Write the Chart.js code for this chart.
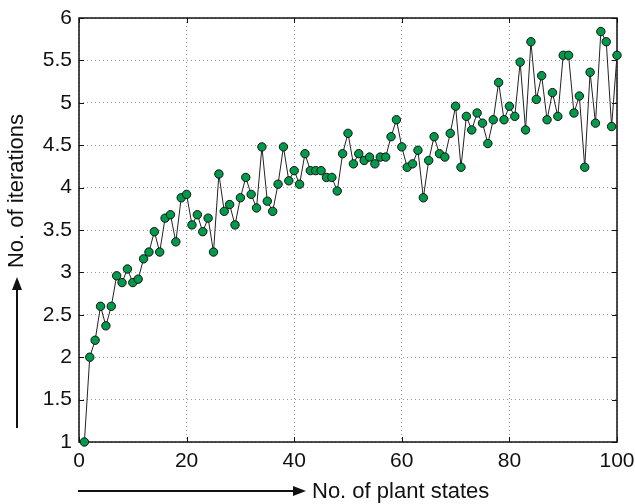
<!DOCTYPE html>
<html>
<head>
<meta charset="utf-8">
<script src="https://cdn.jsdelivr.net/npm/chart.js@4/dist/chart.umd.min.js"></script>
<style>
  html, body { margin: 0; padding: 0; background: #fff; }
  #wrap { width: 635px; height: 504px; position: relative; }
</style>
</head>
<body>
<div id="wrap"><canvas id="chart" width="635" height="504"></canvas></div>
<script>
// x: number of plant states, y: iterations
const plantStates = [
  1, 2, 3, 4, 5, 6, 7, 8, 9, 10, 11, 12, 13, 14, 15, 16, 17, 18, 19, 20,
  21, 22, 23, 24, 25, 26, 27, 28, 29, 30, 31, 32, 33, 34, 35, 36, 37, 38, 39, 40,
  41, 42, 43, 44, 45, 46, 47, 48, 49, 50, 51, 52, 53, 54, 55, 56, 57, 58, 59, 60,
  61, 62, 63, 64, 65, 66, 67, 68, 69, 70, 71, 72, 73, 74, 75, 76, 77, 78, 79, 80,
  81, 82, 83, 84, 85, 86, 87, 88, 89, 90, 91, 92, 93, 94, 95, 96, 97, 98, 99, 100,
];
const iterations = [
  1.00, 2.00, 2.20, 2.60, 2.37, 2.60, 2.96, 2.88, 3.04, 2.88,
  2.92, 3.16, 3.24, 3.48, 3.24, 3.64, 3.68, 3.36, 3.88, 3.92,
  3.56, 3.68, 3.48, 3.64, 3.24, 4.16, 3.72, 3.80, 3.56, 3.88,
  4.12, 3.92, 3.76, 4.48, 3.84, 3.72, 4.04, 4.48, 4.08, 4.20,
  4.04, 4.40, 4.20, 4.20, 4.20, 4.12, 4.12, 3.96, 4.40, 4.64,
  4.28, 4.40, 4.32, 4.36, 4.28, 4.36, 4.36, 4.60, 4.80, 4.48,
  4.24, 4.28, 4.44, 3.88, 4.32, 4.60, 4.40, 4.36, 4.64, 4.96,
  4.24, 4.84, 4.68, 4.88, 4.76, 4.52, 4.80, 5.24, 4.80, 4.96,
  4.84, 5.48, 4.68, 5.72, 5.04, 5.32, 4.80, 5.12, 4.84, 5.56,
  5.56, 4.88, 5.08, 4.24, 5.36, 4.76, 5.84, 5.72, 4.72, 5.56,
];
const xTicks = [0, 20, 40, 60, 80, 100];
const yTicks = [1, 1.5, 2, 2.5, 3, 3.5, 4, 4.5, 5, 5.5, 6];
const yTickLabels = ['1', '1.5', '2', '2.5', '3', '3.5', '4', '4.5', '5', '5.5', '6'];
const xTitle = 'No. of plant states';
const yTitle = 'No. of iterations';

const FONT = "'Liberation Sans', Arial, Helvetica, sans-serif";

function arrow(ctx, x1, y1, x2, y2) {
  const ang = Math.atan2(y2 - y1, x2 - x1);
  const hl = 13, hw = 5;
  ctx.beginPath();
  ctx.moveTo(x1, y1);
  ctx.lineTo(x2 - hl * Math.cos(ang), y2 - hl * Math.sin(ang));
  ctx.stroke();
  ctx.beginPath();
  ctx.moveTo(x2, y2);
  ctx.lineTo(x2 - hl * Math.cos(ang) + hw * Math.sin(ang), y2 - hl * Math.sin(ang) - hw * Math.cos(ang));
  ctx.lineTo(x2 - hl * Math.cos(ang) - hw * Math.sin(ang), y2 - hl * Math.sin(ang) + hw * Math.cos(ang));
  ctx.closePath();
  ctx.fill();
}

// box, inner ticks (MATLAB style) and the arrowed axis titles
const framePlugin = {
  id: 'frame',
  beforeDatasetsDraw(chart) {
    const { ctx, chartArea: a, scales } = chart;
    ctx.save();
    ctx.strokeStyle = '#111';
    ctx.lineWidth = 1;
    ctx.beginPath();
    xTicks.forEach(v => {
      const px = Math.round(scales.x.getPixelForValue(v)) + 0.5;
      ctx.moveTo(px, a.bottom); ctx.lineTo(px, a.bottom - 5);
      ctx.moveTo(px, a.top); ctx.lineTo(px, a.top + 5);
    });
    yTicks.forEach(v => {
      const py = Math.round(scales.y.getPixelForValue(v)) + 0.5;
      ctx.moveTo(a.left, py); ctx.lineTo(a.left + 5, py);
      ctx.moveTo(a.right, py); ctx.lineTo(a.right - 5, py);
    });
    ctx.stroke();
    ctx.lineWidth = 1.5;
    ctx.strokeRect(a.left, a.top, a.right - a.left, a.bottom - a.top);
    ctx.restore();
  },
  afterDraw(chart) {
    const { ctx } = chart;
    ctx.save();
    ctx.fillStyle = '#111';
    ctx.strokeStyle = '#111';
    ctx.lineWidth = 2;
    ctx.font = `22px ${FONT}`;
    ctx.textBaseline = 'middle';
    ctx.textAlign = 'left';
    arrow(ctx, 78, 491, 306, 491);
    ctx.fillText(xTitle, 312, 492);
    arrow(ctx, 17, 428, 17, 277);
    ctx.translate(17, 191);
    ctx.rotate(-Math.PI / 2);
    ctx.textAlign = 'center';
    ctx.fillText(yTitle, 0, 0);
    ctx.restore();
  },
};

new Chart(document.getElementById('chart'), {
  type: 'line',
  data: {
    datasets: [{
      data: plantStates.map((x, i) => ({ x, y: iterations[i] })),
      borderColor: '#222',
      borderWidth: 1,
      backgroundColor: '#009a4a',
      pointBackgroundColor: '#009a4a',
      pointBorderColor: '#111',
      pointBorderWidth: 1,
      pointRadius: 4.2,
      tension: 0,
      clip: false,
    }],
  },
  options: {
    responsive: false,
    animation: false,
    events: [],
    layout: { padding: { top: 18, right: 18, left: 0, bottom: 0 } },
    plugins: { legend: { display: false }, tooltip: { enabled: false } },
    scales: {
      x: {
        type: 'linear',
        min: 0, max: 100,
        afterBuildTicks: s => { s.ticks = xTicks.map(value => ({ value })); },
        afterFit: s => { s.height = 62; s.paddingLeft = 0; s.paddingRight = 0; },
        grid: { color: '#9a9a9a', lineWidth: 1, drawTicks: false },
        border: { display: false, dash: [1, 3] },
        ticks: { color: '#111', padding: 7, font: { family: FONT, size: 21 }, maxRotation: 0 },
      },
      y: {
        min: 1, max: 6,
        afterBuildTicks: s => { s.ticks = yTicks.map(value => ({ value })); },
        afterFit: s => { s.width = 79; s.paddingTop = 0; s.paddingBottom = 0; },
        grid: { color: '#9a9a9a', lineWidth: 1, drawTicks: false },
        border: { display: false, dash: [1, 3] },
        ticks: {
          color: '#111', padding: 7, font: { family: FONT, size: 21 },
          callback: (v, i) => yTickLabels[i],
        },
      },
    },
  },
  plugins: [framePlugin],
});
</script>
</body>
</html>
